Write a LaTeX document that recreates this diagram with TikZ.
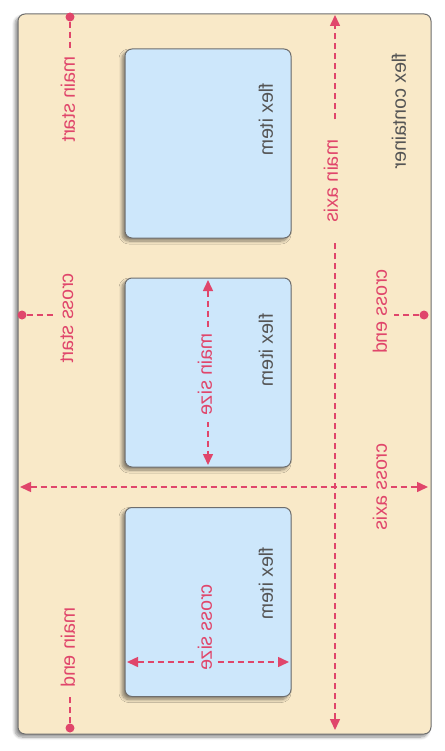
\documentclass[tikz,border=0pt]{standalone}
\usepackage{fontspec}
\setmainfont{Liberation Sans}
\usetikzlibrary{arrows.meta,shadows.blur}
\definecolor{cream}{HTML}{F9E9C8}
\definecolor{itemblue}{HTML}{CDE7FB}
\definecolor{flexred}{HTML}{E0466B}
\definecolor{edge}{HTML}{6E6E6E}
\definecolor{itemtext}{HTML}{555555}
\begin{document}
\begin{tikzpicture}[x=1pt,y=-1pt,font=\fontsize{19.5}{20}\selectfont,
  flip/.style={cm={0,-1,-1,0,(0,0)}},
  box/.style={draw=edge,line width=1pt,rounded corners=7pt,
    blur shadow={shadow xshift=-3pt,shadow yshift=-3pt,shadow blur radius=3pt,
      shadow blur steps=8,shadow opacity=45}},
  item/.style={box,fill=itemblue,minimum width=166pt,minimum height=189pt},
  itemname/.style={flip,text=itemtext},
  tag/.style={flip,text=flexred,inner sep=2pt},
  endtag/.style={tag,inner sep=7pt},
  dot/.style={circle,fill=flexred,inner sep=0pt,minimum size=9pt},
  guide/.style={flexred,line width=1.5pt,dash pattern=on 6pt off 4pt},
  axis/.style={guide,{Triangle[length=11pt,width=10pt]}-{Triangle[length=11pt,width=10pt]}}]
\useasboundingbox (0,0) rectangle (444,751);
\node[box,fill=cream,minimum width=413pt,minimum height=720pt] (container) at (224.5,374) {};
\node[itemname] (containername) at (399,111) {flex container};

\node[item] (item1) at (208,143.5) {};
\node[item] (item2) at (208,372.5) {};
\node[item] (item3) at (208,602) {};
\node[itemname] (name1) at (266,119.5) {flex item};
\node[itemname] (name2) at (266,350) {flex item};
\node[itemname] (name3) at (266,583.5) {flex item};

% the two axes run across the whole container
\coordinate (axtop) at (335,15);
\coordinate (axbot) at (335,730);
\draw[axis] (axbot) -- (axtop);
\node[tag,fill=cream,inner xsep=20pt] (mainaxis) at (331,181) {main axis};
\coordinate (cxleft) at (20,487);
\coordinate (cxright) at (428,487);
\draw[axis] (cxleft) -- (cxright);
\node[tag,fill=cream,inner ysep=4pt] (crossaxis) at (380,487) {cross axis};

% sizes, measured on the items
\coordinate (sztop) at (208,280);
\coordinate (szbot) at (208,465);
\draw[axis] (sztop) -- (szbot);
\node[tag,fill=itemblue,inner xsep=6pt] (mainsize) at (205,374.5) {main size};
\coordinate (szleft) at (127,662);
\coordinate (szright) at (289,662);
\draw[axis] (szleft) -- (szright);
\node[tag,fill=itemblue,inner ysep=4pt] (crosssize) at (205,627.5) {cross size};

% start and end marks on the container edges
\node[dot] (msdot) at (70,17) {};
\node[endtag] (mainstart) at (68,99) {main start};
\draw[guide] (msdot) -- (msdot |- mainstart.west);
\node[dot] (medot) at (70,728) {};
\node[endtag] (mainend) at (68,647.5) {main end};
\draw[guide] (medot) -- (medot |- mainend.east);
\node[dot] (csdot) at (22,315) {};
\node[endtag] (crossstart) at (67,318) {cross start};
\draw[guide] (csdot) -- (csdot -| crossstart.north);
\node[dot] (cedot) at (424,315) {};
\node[endtag] (crossend) at (380,311.5) {cross end};
\draw[guide] (cedot) -- (cedot -| crossend.south);
\end{tikzpicture}
\end{document}
